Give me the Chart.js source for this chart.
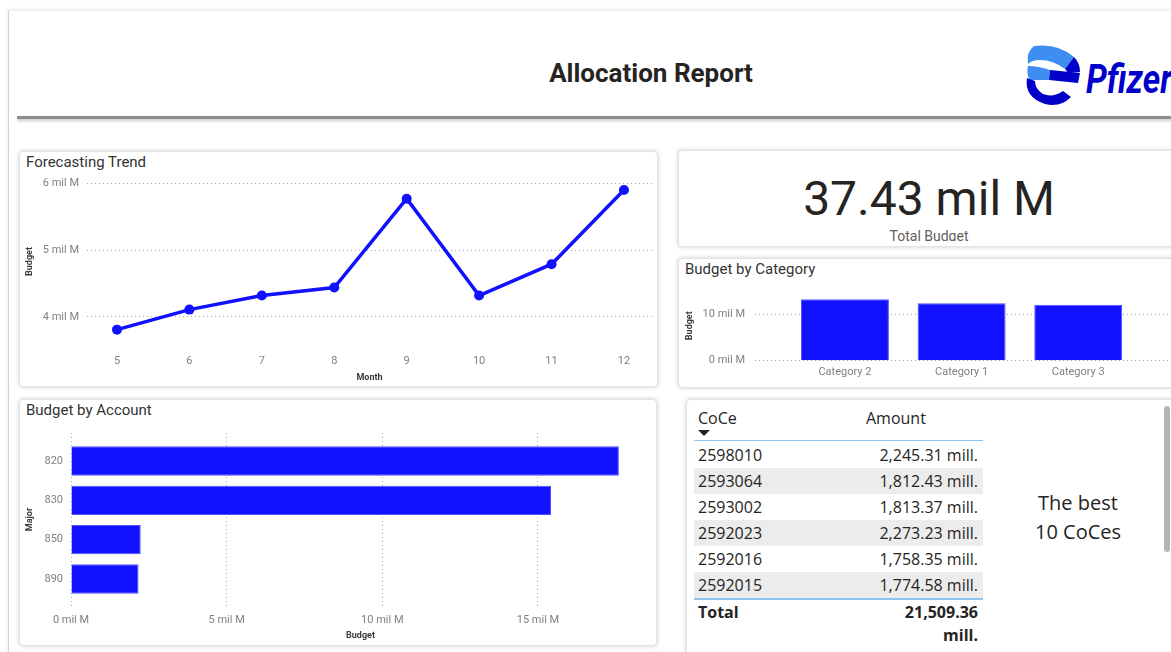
<!DOCTYPE html>
<html><head><meta charset="utf-8">
<script src="https://cdn.jsdelivr.net/npm/chart.js@4.4.1/dist/chart.umd.min.js"></script>
<style>
html,body{margin:0;padding:0;background:#fff;}
body{width:1171px;height:652px;overflow:hidden;position:relative;font-family:Roboto,'Open Sans',sans-serif;color:#252423;}
.abs{position:absolute;}
.card{position:absolute;background:#fff;border-radius:4px;box-shadow:0 0 4px rgba(0,0,0,0.20);border:1px solid #e4e4e4;box-sizing:border-box;}
.title{position:absolute;font-size:15px;font-weight:400;line-height:16px;color:#333333;white-space:nowrap;}
canvas{position:absolute;}
.tbl{position:absolute;font-family:'Open Sans',sans-serif;font-size:16px;color:#252423;white-space:nowrap;}
</style></head><body>
<div class="abs" style="left:8px;top:10px;width:1170px;height:650px;border-left:1px solid #d4d4d4;border-top:1px solid #ededed;box-shadow:-1px -1px 3px rgba(0,0,0,0.07);"></div>

<div class="abs" style="left:401px;top:57px;width:500px;text-align:center;font-size:26px;font-weight:700;line-height:32px;color:#252423;">Allocation Report</div>
<svg class="abs" style="left:1020px;top:40px;" width="151" height="72" viewBox="1020 40 151 72">
  <path d="M1034,46 Q1058,43 1074,57 L1065,69 Q1053,60 1040,60 Q1032,60 1028,64 Q1026,52 1034,46 Z" fill="#3d8ef0"/>
  <path d="M1074,57 Q1080,63 1080,72 L1068,73 Q1067,71 1065,69 Z" fill="#0000c9"/>
  <path d="M1028,66 Q1038,66 1050,70 L1049,80 L1030,80 Q1026,74 1028,66 Z" fill="#3d8ef0"/>
  <path d="M1050,70 L1080,73 L1078,83 L1049,80 Z" fill="#0000c9"/>
  <path d="M1027,78 Q1024,97 1045,104 Q1060,108 1071,97 L1063,91 Q1053,98 1043,94 Q1035,89 1035,81 Z" fill="#0000c9"/>
  <text x="1086" y="93" font-family="Roboto" font-style="italic" font-weight="700" font-size="40" fill="#0000c9" textLength="86" lengthAdjust="spacingAndGlyphs">Pfizer</text>
</svg>
<div class="abs" style="left:17px;top:116px;width:1160px;height:3px;background:#8d8d8d;box-shadow:0 2px 3px rgba(0,0,0,0.22);"></div>

<!-- cards -->
<div class="card" style="left:19px;top:151px;width:639px;height:236px;"></div>
<div class="title" style="left:26px;top:154px;">Forecasting Trend</div>

<div class="card" style="left:678px;top:150px;width:510px;height:97px;"></div>
<div class="abs" style="left:678px;top:150px;width:502px;height:91px;overflow:hidden;">
  <div id="kpi" class="abs" style="left:0;top:25px;width:502px;text-align:center;font-size:48px;line-height:48px;color:#252423;"></div>
  <div class="abs" style="left:0;top:78px;width:502px;text-align:center;font-size:14px;line-height:16px;color:#605e5c;">Total Budget</div>
</div>

<div class="card" style="left:678px;top:258px;width:510px;height:130px;"></div>
<div class="title" style="left:685px;top:261px;">Budget by Category</div>

<div class="card" style="left:19px;top:399px;width:638px;height:247px;"></div>
<div class="title" style="left:26px;top:402px;">Budget by Account</div>

<div class="card" style="left:686px;top:399px;width:510px;height:270px;"></div>
<div id="table"></div>
<div class="tbl" style="left:1000px;top:488px;width:156px;text-align:center;font-size:20px;line-height:29px;white-space:normal;">The best<br>10 CoCes</div>
<div class="abs" style="left:1164px;top:406px;width:6px;height:146px;background:#b5b5b5;border-radius:3px;"></div>

<canvas id="trend"></canvas>
<canvas id="cat"></canvas>
<canvas id="acc"></canvas>

<script>
// ---- data ----
const months = [5, 6, 7, 8, 9, 10, 11, 12];
const monthlyBudget = [3.81, 4.11, 4.32, 4.44, 5.77, 4.32, 4.79, 5.90];
const trendTicks = [4, 5, 6];

const categories = ['Category 2', 'Category 1', 'Category 3'];
const categoryBudget = [13.15, 12.29, 11.99];
const categoryTicks = [0, 10];

const accounts = ['820', '830', '850', '890'];
const accountBudget = [17.60, 15.42, 2.24, 2.17];
const accountTicks = [0, 5, 10, 15];

const coces = ['2598010', '2593064', '2593002', '2592023', '2592016', '2592015'];
const amounts = [2245.31, 1812.43, 1813.37, 2273.23, 1758.35, 1774.58];
const totalAmount = 21509.36;
const totalBudget = 37.43;

// ---- styles ----
const BLUE = '#1111ff';
const TICK = {family: 'Roboto', size: 11};
const TICKC = '#808080';
const TT = {family: 'Roboto', size: 9, weight: 'bold'};
const TTC = '#3b3a39';
const GRID = '#a8a8a8';
const fmt = v => v.toLocaleString('en-US', {minimumFractionDigits: 2, maximumFractionDigits: 2});
const mil = v => v + ' mil M';

document.getElementById('kpi').textContent = totalBudget.toFixed(2) + ' mil M';

// table
(function(){
  const t = document.getElementById('table');
  let h = '';
  h += '<div class="tbl" style="left:698px;top:406px;line-height:24px;">CoCe</div>';
  h += '<div class="tbl" style="left:866px;top:406px;line-height:24px;">Amount</div>';
  h += '<div class="abs" style="left:698px;top:430px;width:0;height:0;border-left:6px solid transparent;border-right:6px solid transparent;border-top:6px solid #252423;"></div>';
  h += '<div class="abs" style="left:694px;top:440px;width:289px;height:1px;background:#8ec5f0;"></div>';
  coces.forEach((c, i) => {
    const top = 442 + i * 26;
    const bg = i % 2 ? '#ececec' : '#ffffff';
    h += '<div class="abs" style="left:694px;top:' + top + 'px;width:289px;height:26px;background:' + bg + ';"></div>';
    h += '<div class="tbl" style="left:698px;top:' + top + 'px;line-height:26px;">' + c + '</div>';
    h += '<div class="tbl" style="left:860px;top:' + top + 'px;width:118px;text-align:right;line-height:26px;">' + fmt(amounts[i]) + ' mill.</div>';
  });
  h += '<div class="abs" style="left:694px;top:598px;width:289px;height:2px;background:#8ec5f0;"></div>';
  h += '<div class="tbl" style="left:698px;top:601px;line-height:23px;font-weight:700;">Total</div>';
  h += '<div class="tbl" style="left:860px;top:601px;width:118px;text-align:right;line-height:23px;font-weight:700;">' + fmt(totalAmount) + '<br>mill.</div>';
  t.innerHTML = h;
})();

function mk(id, x, y, w, h) {
  const c = document.getElementById(id);
  c.width = w; c.height = h;
  c.style.left = x + 'px'; c.style.top = y + 'px';
  c.style.width = w + 'px'; c.style.height = h + 'px';
  return c;
}
function fixW(w){ return s => { s.width = w; s.paddingTop = 0; s.paddingBottom = 0; s.paddingLeft = 0; s.paddingRight = 0; }; }
function fixH(hh){ return s => { s.height = hh; s.paddingTop = 0; s.paddingBottom = 0; s.paddingLeft = 0; s.paddingRight = 0; }; }
const common = {responsive: false, animation: false, events: [], plugins: {legend: {display: false}, tooltip: {enabled: false}}};

// ---- Forecasting Trend ----
new Chart(mk('trend', 19, 172, 639, 215), {
  type: 'line',
  data: {datasets: [{
    data: months.map((m, i) => ({x: m, y: monthlyBudget[i]})),
    borderColor: BLUE, backgroundColor: BLUE, borderWidth: 3.5,
    pointRadius: 5, pointBorderWidth: 0, pointBackgroundColor: BLUE, tension: 0
  }]},
  options: Object.assign({}, common, {
    layout: {padding: {top: 6, right: 6, left: 0, bottom: 0}},
    scales: {
      x: {type: 'linear', min: 4.586, max: 12.387, offset: false,
        afterBuildTicks: s => { s.ticks = months.map(v => ({value: v})); },
        afterFit: fixH(42),
        grid: {display: false, drawTicks: false}, border: {display: false},
        ticks: {padding: 10, font: TICK, color: TICKC, maxRotation: 0, autoSkip: false},
        title: {display: true, text: 'Month', font: TT, color: TTC, padding: {top: 0, bottom: 4}}},
      y: {min: 3.58, max: 6.08,
        afterBuildTicks: s => { s.ticks = trendTicks.map(v => ({value: v})); },
        afterFit: fixW(68),
        grid: {color: GRID, drawTicks: false, lineWidth: 1}, border: {display: false, dash: [1, 3]},
        ticks: {padding: 8, font: TICK, color: TICKC, callback: mil},
        title: {display: true, text: 'Budget', font: TT, color: TTC, padding: {top: 5.6, bottom: 0}}}
    }
  })
});

// ---- Budget by Category ----
new Chart(mk('cat', 679, 280, 492, 108), {
  type: 'bar',
  data: {datasets: [{
    data: categoryBudget.map((v, i) => ({x: i, y: v})),
    backgroundColor: BLUE, borderColor: '#5050ff', borderWidth: 1,
    barPercentage: 0.754, categoryPercentage: 1
  }]},
  options: Object.assign({}, common, {
    layout: {padding: {top: 10.7, right: 0, left: 0, bottom: 0}},
    scales: {
      x: {type: 'linear', min: -0.771, max: 2.795, offset: false,
        afterBuildTicks: s => { s.ticks = categories.map((c, i) => ({value: i})); },
        afterFit: fixH(27.3),
        grid: {display: false, drawTicks: false}, border: {display: false},
        ticks: {padding: 5, font: TICK, color: TICKC, maxRotation: 0, autoSkip: false, callback: v => categories[v] ?? ''}},
      y: {min: 0, max: 15,
        afterBuildTicks: s => { s.ticks = categoryTicks.map(v => ({value: v})); },
        afterFit: fixW(76),
        grid: {color: GRID, drawTicks: false, lineWidth: 1}, border: {display: false, dash: [1, 3]},
        ticks: {padding: 10, font: TICK, color: TICKC, callback: mil},
        title: {display: true, text: 'Budget', font: TT, color: TTC, padding: {top: 5.6, bottom: 0}}}
    }
  })
});

// ---- Budget by Account ----
new Chart(mk('acc', 19, 420, 638, 228), {
  type: 'bar',
  data: {datasets: [{
    data: accountBudget.map((v, i) => ({x: v, y: i})),
    backgroundColor: BLUE, borderColor: '#5050ff', borderWidth: 1,
    barPercentage: 0.745, categoryPercentage: 1
  }]},
  options: Object.assign({}, common, {
    indexAxis: 'y',
    layout: {padding: {top: 13, right: 7, left: 0, bottom: 0}},
    scales: {
      y: {type: 'linear', reverse: true, min: -0.712, max: 3.687, offset: false,
        afterBuildTicks: s => { s.ticks = accounts.map((a, i) => ({value: i})); },
        afterFit: fixW(52),
        grid: {display: false, drawTicks: false}, border: {display: false},
        ticks: {padding: 8, font: TICK, color: TICKC, autoSkip: false, callback: v => accounts[v] ?? ''},
        title: {display: true, text: 'Major', font: TT, color: TTC, padding: {top: 5.6, bottom: 0}}},
      x: {type: 'linear', min: 0, max: 18.6, offset: false,
        afterBuildTicks: s => { s.ticks = accountTicks.map(v => ({value: v})); },
        afterFit: fixH(42),
        grid: {color: GRID, drawTicks: false, lineWidth: 1}, border: {display: false, dash: [1, 3]},
        ticks: {padding: 8, font: TICK, color: TICKC, maxRotation: 0, autoSkip: false, callback: mil},
        title: {display: true, text: 'Budget', font: TT, color: TTC, padding: {top: 0, bottom: 6.6}}}
    }
  })
});
</script>
</body></html>
